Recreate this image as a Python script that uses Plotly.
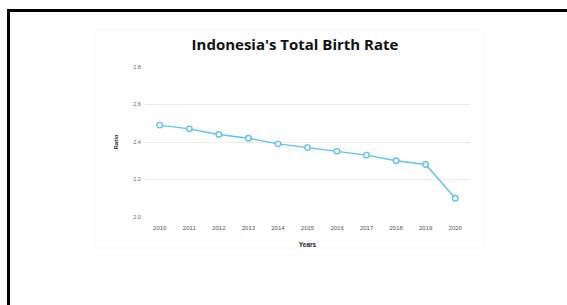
import plotly.graph_objects as go

years = ["2010", "2011", "2012", "2013", "2014", "2015", "2016", "2017", "2018", "2019", "2020"]
ratio = [2.49, 2.47, 2.44, 2.42, 2.39, 2.37, 2.35, 2.33, 2.30, 2.28, 2.10]
y_ticks = [2.0, 2.2, 2.4, 2.6, 2.8]
y_tick_labels = ["2.0", "2.2", "2.4", "2.6", "2.8"]

W, H = 567, 305
L, R, T, B = 145, 97, 67, 88
pw, ph = W - L - R, H - T - B

def px(x):
    return (x - L) / pw

def py(y):
    return (H - B - y) / ph

fig = go.Figure()
fig.add_trace(go.Scatter(
    x=years, y=ratio, mode="lines+markers",
    line=dict(color="#66c0e8", width=1.5),
    marker=dict(symbol="circle", size=5.5, color="white",
                line=dict(color="#66c0e8", width=1.4)),
    hoverinfo="x+y",
))

fig.update_layout(
    width=W, height=H,
    margin=dict(l=L, r=R, t=T, b=B),
    paper_bgcolor="white", plot_bgcolor="white",
    showlegend=False,
    title=dict(text="<b>Indonesia's Total Birth Rate</b>",
               font=dict(family="Open Sans", size=15, color="#111"),
               x=295 / W, xanchor="center", y=1 - 45 / H, yanchor="middle",
               xref="container", yref="container"),
    font=dict(family="Arial", color="#555"),
)
fig.update_xaxes(
    type="category", range=[-0.5, 10.5], showgrid=False, zeroline=False,
    showline=False, ticks="outside", ticklen=5, tickcolor="rgba(0,0,0,0)",
    tickfont=dict(size=6, color="#555"),
    title=dict(text="<b>Years</b>", font=dict(size=6.5, color="#222"), standoff=12),
)
fig.update_yaxes(
    range=[2.0, 2.8], tickvals=y_ticks, ticktext=y_tick_labels,
    showgrid=True, gridcolor="#ececec", gridwidth=1, zeroline=False,
    showline=False, ticks="outside", ticklen=2, tickcolor="rgba(0,0,0,0)",
    tickfont=dict(size=5.5, color="#666"),
    title=dict(text="<b>Ratio</b>", font=dict(size=6, color="#222"), standoff=14),
)

# faint inner chart panel
fig.add_shape(type="rect", xref="paper", yref="paper",
              x0=px(95), x1=px(484), y0=py(248), y1=py(30),
              line=dict(color="#f7f7f7", width=1), fillcolor="rgba(0,0,0,0)", layer="below")
# black frame lines (top and left)
fig.add_shape(type="line", xref="paper", yref="paper",
              x0=px(8.5), x1=px(600), y0=py(10.5), y1=py(10.5),
              line=dict(color="black", width=3))
fig.add_shape(type="line", xref="paper", yref="paper",
              x0=px(8.5), x1=px(8.5), y0=py(9), y1=py(330),
              line=dict(color="black", width=3))

fig.write_html("out.html", config={"displayModeBar": False},
               post_script="document.body.style.margin='0';document.body.style.overflow='hidden';")
